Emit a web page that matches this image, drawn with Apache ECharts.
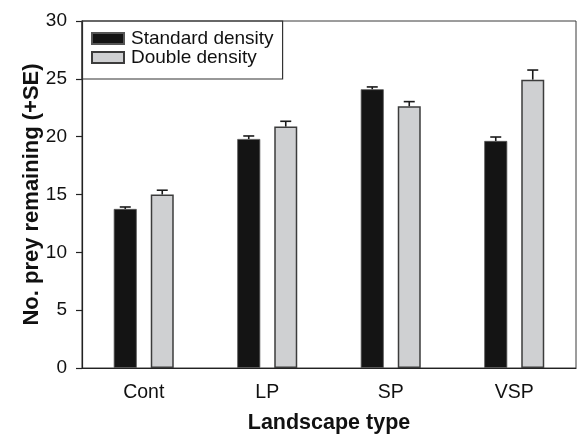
<!DOCTYPE html>
<html>
<head>
<meta charset="utf-8">
<script src="https://cdn.jsdelivr.net/npm/echarts@6/dist/echarts.min.js"></script>
<style>
  html, body { margin: 0; padding: 0; background: #fff; }
  #chart { width: 578px; height: 434px; }
</style>
</head>
<body>
<div id="chart"></div>
<script>
const categories = ['Cont', 'LP', 'SP', 'VSP'];
const standardMean = [13.75, 19.8, 24.1, 19.63];
const standardSE = [0.17, 0.26, 0.2, 0.34];
const doubleMean = [15.0, 20.87, 22.63, 24.93];
const doubleSE = [0.37, 0.46, 0.4, 0.83];
const yTicks = { min: 0, max: 30, interval: 5 };

const FONT = '"Liberation Sans", Arial, Helvetica, sans-serif';
const BAR_W = 23;
const GAP_PX = 14;

function errorSeries(name, means, ses, side) {
  return {
    name: name,
    type: 'custom',
    z: 5,
    silent: true,
    data: means.map((m, i) => [i, m, ses[i]]),
    renderItem: function (params, api) {
      const off = side * (BAR_W + GAP_PX) / 2;
      const base = api.coord([api.value(0), api.value(1)]);
      const top = api.coord([api.value(0), api.value(1) + api.value(2)]);
      const x = base[0] + off;
      const half = 5.5;
      const style = { stroke: '#1a1a1a', lineWidth: 1.6 };
      return {
        type: 'group',
        children: [
          { type: 'line', shape: { x1: x, y1: base[1], x2: x, y2: top[1] }, style: style },
          { type: 'line', shape: { x1: x - half, y1: top[1], x2: x + half, y2: top[1] }, style: style }
        ]
      };
    }
  };
}

const chart = echarts.init(document.getElementById('chart'), null, { renderer: 'canvas' });
chart.setOption({
  animation: false,
  backgroundColor: '#ffffff',
  textStyle: { fontFamily: FONT },
  grid: {
    left: 82, right: 2, top: 21, bottom: 66,
    containLabel: false,
    outerBoundsMode: 'none',
    show: true, borderColor: '#3a3a3a', borderWidth: 1, backgroundColor: 'transparent'
  },
  legend: {
    data: ['Standard density', 'Double density'],
    orient: 'vertical',
    left: 82, top: 21,
    itemWidth: 32, itemHeight: 11, itemGap: 0,
    icon: 'rect',
    padding: [8, 9, 12, 9],
    borderColor: '#333', borderWidth: 1.2,
    textStyle: { fontFamily: FONT, fontSize: 19, color: '#111', lineHeight: 17.5, padding: [0, 0, 0, 2] }
  },
  xAxis: {
    type: 'category',
    data: categories,
    name: 'Landscape type',
    nameLocation: 'middle',
    nameGap: 44,
    nameMoveOverlap: false,
    nameTextStyle: { fontFamily: FONT, fontSize: 21.5, fontWeight: 'bold', color: '#111' },
    axisLine: { lineStyle: { color: '#222', width: 1.2 } },
    axisTick: { alignWithLabel: true, length: 5, lineStyle: { color: '#222', width: 1.2 } },
    axisLabel: { fontFamily: FONT, fontSize: 19.5, color: '#111', margin: 15 },
    splitLine: { show: false }
  },
  yAxis: {
    type: 'value',
    min: yTicks.min, max: yTicks.max, interval: yTicks.interval,
    name: 'No. prey remaining (+SE)',
    nameLocation: 'middle',
    nameGap: 39,
    nameMoveOverlap: false,
    nameTextStyle: { fontFamily: FONT, fontSize: 22, fontWeight: 'bold', color: '#111' },
    axisLine: { show: true, lineStyle: { color: '#222', width: 1.2 } },
    axisTick: { show: true, length: 6, lineStyle: { color: '#222', width: 1.2 } },
    axisLabel: { fontFamily: FONT, fontSize: 19, color: '#111', margin: 15 },
    splitLine: { show: false }
  },
  series: [
    {
      name: 'Standard density',
      type: 'bar',
      data: standardMean,
      barWidth: BAR_W,
      barGap: (GAP_PX / BAR_W * 100) + '%',
      itemStyle: { color: '#141414', borderColor: '#555', borderWidth: 0.8 }
    },
    {
      name: 'Double density',
      type: 'bar',
      data: doubleMean,
      barWidth: BAR_W,
      barGap: (GAP_PX / BAR_W * 100) + '%',
      itemStyle: { color: '#cfd0d2', borderColor: '#3c3c3c', borderWidth: 1.5 }
    },
    errorSeries('Standard SE', standardMean, standardSE, -1),
    errorSeries('Double SE', doubleMean, doubleSE, 1)
  ]
});
</script>
</body>
</html>
